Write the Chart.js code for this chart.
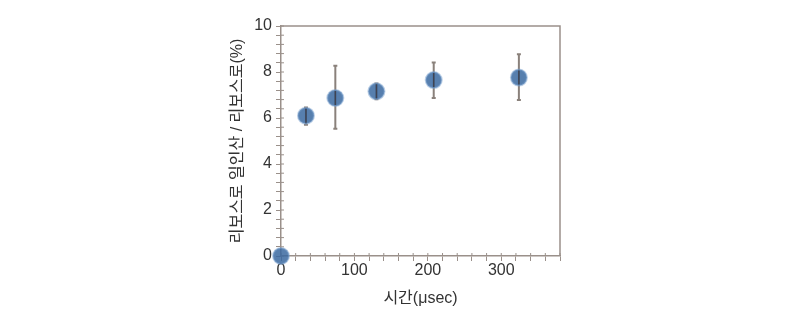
<!DOCTYPE html>
<html>
<head>
<meta charset="utf-8">
<script src="https://cdn.jsdelivr.net/npm/chart.js@4/dist/chart.umd.min.js"></script>
<style>
  html, body { margin: 0; padding: 0; background: #fff; }
</style>
</head>
<body>
<canvas id="miGrafica" width="800" height="318"></canvas>
<script>
// datos
var tiempos = [0, 34, 74, 130, 208, 324];
var valores = [0, 6.1, 6.87, 7.16, 7.65, 7.76];
var errArriba = [0, 6.46, 8.27, 7.5, 8.41, 8.77];
var errAbajo = [0, 5.71, 5.53, 6.82, 6.87, 6.78];
var xTicks = [0, 100, 200, 300];
var yTicks = [0, 2, 4, 6, 8, 10];

var puntos = tiempos.map(function (t, i) { return { x: t, y: valores[i] }; });

var fuente = "'Liberation Sans', 'Noto Sans CJK KR', sans-serif";
var gris = "#9a908a";

// barras de error + marco + marcas interiores
var barrasError = {
  id: "barrasError",
  beforeDatasetsDraw: function (chart) {
    var ctx = chart.ctx, xs = chart.scales.x, ys = chart.scales.y;
    var a = chart.chartArea;
    ctx.save();
    ctx.strokeStyle = gris;
    ctx.lineWidth = 1.5;
    ctx.beginPath();
    ctx.moveTo(a.left, a.top);
    ctx.lineTo(a.right, a.top);
    ctx.lineTo(a.right, a.bottom);
    ctx.stroke();
    // marcas hacia dentro
    ctx.lineWidth = 1;
    ctx.beginPath();
    xs.ticks.forEach(function (t) {
      var px = xs.getPixelForValue(t.value);
      ctx.moveTo(px, a.bottom);
      ctx.lineTo(px, a.bottom - 3);
    });
    ys.ticks.forEach(function (t) {
      var py = ys.getPixelForValue(t.value);
      ctx.moveTo(a.left, py);
      ctx.lineTo(a.left + 3, py);
    });
    ctx.stroke();
    ctx.strokeStyle = "#8a817b";
    ctx.lineWidth = 2;
    for (var i = 0; i < tiempos.length; i++) {
      if (errArriba[i] === errAbajo[i]) continue;
      var x0 = xs.getPixelForValue(tiempos[i]);
      var y1 = ys.getPixelForValue(errArriba[i]);
      var y2 = ys.getPixelForValue(errAbajo[i]);
      ctx.beginPath();
      ctx.moveTo(x0, y1);
      ctx.lineTo(x0, y2);
      ctx.moveTo(x0 - 2, y1);
      ctx.lineTo(x0 + 2, y1);
      ctx.moveTo(x0 - 2, y2);
      ctx.lineTo(x0 + 2, y2);
      ctx.stroke();
    }
    ctx.restore();
  },
  afterDatasetsDraw: function (chart) {
    var ctx = chart.ctx, xs = chart.scales.x, ys = chart.scales.y;
    ctx.save();
    ctx.strokeStyle = "rgba(60,50,50,0.7)";
    ctx.lineWidth = 1.5;
    for (var i = 0; i < tiempos.length; i++) {
      if (errArriba[i] === errAbajo[i]) continue;
      var x0 = xs.getPixelForValue(tiempos[i]);
      ctx.beginPath();
      ctx.moveTo(x0, ys.getPixelForValue(valores[i]) - 7);
      ctx.lineTo(x0, ys.getPixelForValue(valores[i]) + 7);
      ctx.stroke();
    }
    ctx.restore();
  }
};

var ctx = document.getElementById("miGrafica").getContext("2d");

var myChart = new Chart(ctx, {
  type: "scatter",
  data: {
    datasets: [{
      data: puntos,
      backgroundColor: "rgba(58,105,160,0.85)",
      borderColor: "rgba(120,160,205,0.5)",
      borderWidth: 2,
      pointRadius: 8,
      pointHoverRadius: 8,
      clip: false
    }]
  },
  options: {
    responsive: false,
    animation: false,
    layout: { padding: { left: 228, right: 240, top: 26, bottom: 10 } },
    plugins: { legend: { display: false }, tooltip: { enabled: false } },
    scales: {
      x: {
        type: "linear",
        min: 0,
        max: 380,
        afterFit: function (s) { s.height = 52; },
        ticks: {
          stepSize: 20,
          autoSkip: false,
          maxRotation: 0,
          color: "#333",
          font: { family: fuente, size: 16 },
          padding: 0,
          callback: function (v) { return xTicks.indexOf(v) >= 0 ? v : ""; }
        },
        grid: { drawOnChartArea: false, color: gris, tickLength: 5, tickColor: gris },
        border: { color: gris, width: 1.5 },
        title: {
          display: true,
          text: "시간(μsec)",
          color: "#333",
          font: { family: fuente, size: 16 },
          padding: { top: 0, bottom: 0 }
        }
      },
      y: {
        min: 0,
        max: 10,
        afterFit: function (s) { s.width = 53; },
        ticks: {
          stepSize: 0.4,
          autoSkip: false,
          color: "#333",
          font: { family: fuente, size: 16 },
          padding: 4,
          callback: function (v) {
            var r = Math.round(v);
            return (Math.abs(v - r) < 1e-6 && yTicks.indexOf(r) >= 0) ? r : "";
          }
        },
        grid: { drawOnChartArea: false, color: gris, tickLength: 5, tickColor: gris },
        border: { color: gris, width: 1.5 },
        title: {
          display: true,
          text: "리보스로 일인산 / 리보스로(%)",
          color: "#333",
          font: { family: fuente, size: 16 },
          padding: { top: 0, bottom: 2 }
        }
      }
    }
  },
  plugins: [barrasError]
});
</script>
</body>
</html>
